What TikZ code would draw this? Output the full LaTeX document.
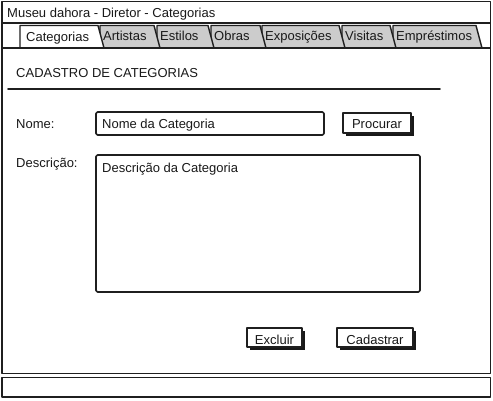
\documentclass[tikz,border=0pt]{standalone}
\usepackage{fontspec}
\setmainfont{Liberation Sans}
\usetikzlibrary{shadows}
\begin{document}
\begin{tikzpicture}[x=1pt,y=-1pt,line join=round,
  frame/.style={draw=black!88,line width=1.7pt},
  tabshape/.style={draw=black!88,line width=1.4pt},
  txt/.style={font=\fontsize{13}{15}\selectfont,anchor=base west,inner sep=0pt,text=black!90},
  field/.style={draw=black!88,line width=1.6pt,fill=white,rounded corners=1.5pt},
  btn/.style={draw=black!88,line width=1.5pt,fill=white,inner sep=0pt,
    drop shadow={shadow xshift=2.5pt,shadow yshift=-2.5pt,fill=black!90,opacity=1}}]
\useasboundingbox (0,0) rectangle (493,400);
\fill[white] (0,0) rectangle (493,400);
% window frame
\draw[frame] (2,1.5) rectangle (490.5,373.5);
\draw[frame] (2,23) -- (490.5,23);
\node[txt] (title) at (7,17.5) {Museu dahora - Diretor - Categorias};
% tabs (right to left)
\foreach \l/\r/\t [count=\i] in {393/476/Empréstimos,342/390/Visitas,262/339/Exposições,211/260/Obras,157/208/Estilos,100/154/Artistas}{
  \fill[black!20] (\l,48) -- (\l,25.5) -- (\r,25.5) -- (\r+6,48) -- cycle;
  \draw[tabshape] (\l,48) -- (\l,25.5) -- (\r,25.5) -- (\r+6,48);
  \node[txt] (tab\i) at (\l+3,40.5) {\t};
}
\fill[white] (20,48) -- (20,25.5) -- (98,25.5) -- (104,48) -- cycle;
\draw[tabshape] (20,48) -- (20,25.5) -- (98,25.5) -- (104,48);
\node[txt] (tabcat) at (26,41.5) {Categorias};
\draw[frame] (2,48) -- (490.5,48);
% heading
\node[txt] (heading) at (16,77.5) {CADASTRO DE CATEGORIAS};
\coordinate (ulA) at (8,89);
\coordinate (ulB) at (440,89);
\draw[black!88,line width=1.6pt,line cap=round] (ulA) -- (ulB);
% Nome
\node[txt] (lnome) at (16,128) {Nome:};
\node[field,minimum width=228pt,minimum height=23pt] (fnome) at (210,123.5) {};
\node[txt] (tnome) at (102,128.5) {Nome da Categoria};
\node[btn,minimum width=68pt,minimum height=20pt] (bproc) at (377,123) {};
\node[txt,anchor=base] (tproc) at (377,128) {Procurar};
% Descricao
\node[txt] (ldesc) at (16,167.5) {Descrição:};
\node[field,minimum width=324pt,minimum height=137pt] (fdesc) at (258,223.5) {};
\node[txt] (tdesc) at (102,172) {Descrição da Categoria};
% buttons
\node[btn,minimum width=55pt,minimum height=19pt] (bexc) at (274.5,337.5) {};
\node[txt,anchor=base] (texc) at (274.5,344) {Excluir};
\node[btn,minimum width=76pt,minimum height=19pt] (bcad) at (375,337.5) {};
\node[txt,anchor=base] (tcad) at (375,344) {Cadastrar};
% status bar
\draw[frame] (2,377.5) rectangle (490.5,397);
\end{tikzpicture}
\end{document}
